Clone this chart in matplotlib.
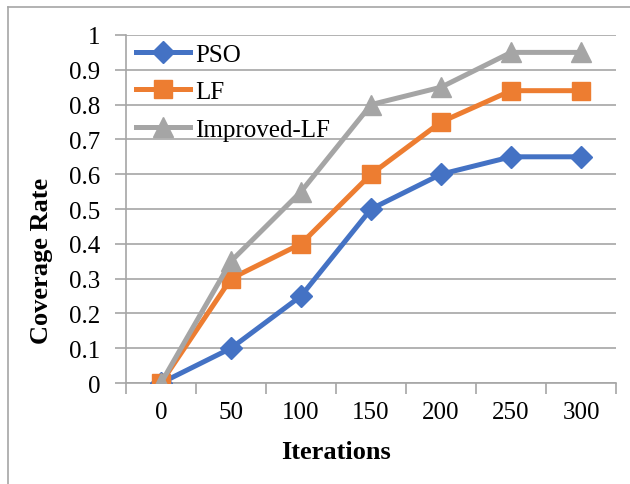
import matplotlib
matplotlib.use('Agg')
import matplotlib.pyplot as plt
from matplotlib.lines import Line2D

# Data
iterations = ['0', '50', '100', '150', '200', '250', '300']
pso = [0, 0.1, 0.25, 0.5, 0.6, 0.65, 0.65]
lf = [0, 0.3, 0.4, 0.6, 0.75, 0.84, 0.84]
improved_lf = [0, 0.35, 0.55, 0.8, 0.85, 0.95, 0.95]
y_ticks = [0, 0.1, 0.2, 0.3, 0.4, 0.5, 0.6, 0.7, 0.8, 0.9, 1]

plt.rcParams['font.family'] = ['Liberation Serif', 'DejaVu Serif']

fig = plt.figure(figsize=(6.3, 4.85), dpi=100)
ax = fig.add_axes([0.2, 0.2082, 0.778, 0.7176])

x = list(range(len(iterations)))
lw = 3.6
ax.plot(x, pso, color='#4472C4', lw=lw, marker='D', markersize=11, label='PSO', zorder=3)
ax.plot(x, lf, color='#ED7D31', lw=lw, marker='s', markersize=13.5, label='LF', zorder=4)
ax.plot(x, improved_lf, color='#A5A5A5', lw=lw, marker='^', markersize=14, label='Improved-LF', zorder=5)

ax.set_xlim(-0.5, len(iterations) - 0.5)
ax.set_ylim(0, 1)
ax.set_yticks(y_ticks)
ax.set_yticklabels(['0' if v == 0 else ('1' if v == 1 else f'{v:.1f}') for v in y_ticks])

# category axis: ticks at boundaries, labels at centres
ax.set_xticks([i - 0.5 for i in range(len(iterations) + 1)])
ax.set_xticklabels([])
ax.set_xticks(x, minor=True)
ax.set_xticklabels(iterations, minor=True)
ax.tick_params(axis='x', which='major', length=8, width=1.2, color='#A6A6A6', direction='out')
ax.tick_params(axis='x', which='minor', length=0, pad=13, labelsize=18)
ax.tick_params(axis='y', length=8, width=1.2, color='#A6A6A6', pad=10.5, labelsize=18)

ax.grid(axis='y', color='#A6A6A6', lw=1.2, zorder=0)
ax.set_axisbelow(True)
for side in ['top', 'right']:
    ax.spines[side].set_visible(False)
for side in ['left', 'bottom']:
    ax.spines[side].set_color('#A6A6A6')
    ax.spines[side].set_linewidth(1.2)

ax.set_xlabel('Iterations', fontsize=19, fontweight='bold')
ax.set_ylabel('Coverage Rate', fontsize=19, fontweight='bold')
ax.xaxis.set_label_coords(0.4286, -0.164)
ax.yaxis.set_label_coords(-0.149, 0.353)

ax.legend(loc='upper left', bbox_to_anchor=(0.0, 1.005), frameon=False, fontsize=18,
          handlelength=2.16, handletextpad=0.2, labelspacing=0.6, borderaxespad=0.0)

# outer chart border (only top and left edges show in the crop)
fig.add_artist(Line2D([0.0127, 0.0127], [0, 0.9845], color='#A6A6A6', lw=1.2))
fig.add_artist(Line2D([0.0127, 1.0], [0.9845, 0.9845], color='#A6A6A6', lw=1.2))

fig.savefig('out.png', dpi=100)
